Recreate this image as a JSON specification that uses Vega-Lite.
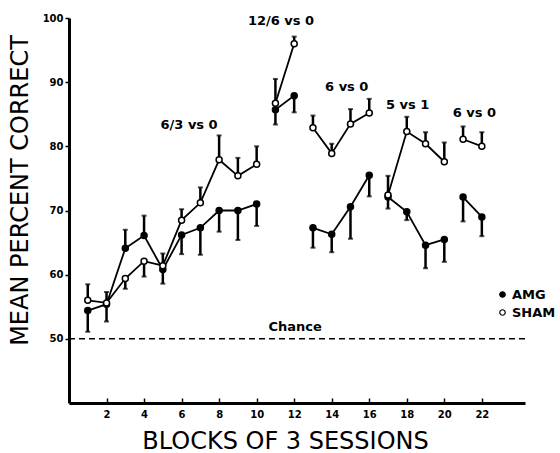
{
  "$schema": "https://vega.github.io/schema/vega-lite/v6.json",
  "autosize": "none",
  "width": 456,
  "height": 385,
  "padding": {"left": 69, "top": 18, "right": 35, "bottom": 50},
  "background": "white",
  "config": {
    "view": {"stroke": null},
    "font": "DejaVu Sans",
    "axis": {"grid": false, "domainColor": "black", "tickColor": "black", "labelColor": "black", "titleColor": "black", "domainWidth": 3, "tickWidth": 1.5, "labelFont": "DejaVu Sans", "labelFontWeight": "bold", "labelFontSize": 10, "titleFont": "DejaVu Sans", "titleFontWeight": "normal", "titleFontSize": 24}
  },
  "datasets": {
    "pts": [
      {"block": 1, "group": "AMG", "seg": "A", "value": 54.4, "err": 51.1},
      {"block": 2, "group": "AMG", "seg": "A", "value": 55.4, "err": 52.7},
      {"block": 3, "group": "AMG", "seg": "A", "value": 64.1, "err": 67.0},
      {"block": 4, "group": "AMG", "seg": "A", "value": 66.1, "err": 69.2},
      {"block": 5, "group": "AMG", "seg": "A", "value": 60.8, "err": 58.6},
      {"block": 6, "group": "AMG", "seg": "A", "value": 66.2, "err": 63.2},
      {"block": 7, "group": "AMG", "seg": "A", "value": 67.3, "err": 63.1},
      {"block": 8, "group": "AMG", "seg": "A", "value": 70.0, "err": 66.7},
      {"block": 9, "group": "AMG", "seg": "A", "value": 70.0, "err": 65.4},
      {"block": 10, "group": "AMG", "seg": "A", "value": 71.0, "err": 67.6},
      {"block": 11, "group": "AMG", "seg": "B", "value": 85.7, "err": 83.4},
      {"block": 12, "group": "AMG", "seg": "B", "value": 87.9, "err": 85.3},
      {"block": 13, "group": "AMG", "seg": "C", "value": 67.3, "err": 64.2},
      {"block": 14, "group": "AMG", "seg": "C", "value": 66.3, "err": 63.5},
      {"block": 15, "group": "AMG", "seg": "C", "value": 70.6, "err": 65.6},
      {"block": 16, "group": "AMG", "seg": "C", "value": 75.5, "err": 72.2},
      {"block": 17, "group": "AMG", "seg": "D", "value": 72.1, "err": 70.3},
      {"block": 18, "group": "AMG", "seg": "D", "value": 69.8, "err": 68.5},
      {"block": 19, "group": "AMG", "seg": "D", "value": 64.6, "err": 61.0},
      {"block": 20, "group": "AMG", "seg": "D", "value": 65.5, "err": 62.0},
      {"block": 21, "group": "AMG", "seg": "E", "value": 72.1, "err": 68.3},
      {"block": 22, "group": "AMG", "seg": "E", "value": 69.0, "err": 66.0},
      {"block": 1, "group": "SHAM", "seg": "A", "value": 56.0, "err": 58.5},
      {"block": 2, "group": "SHAM", "seg": "A", "value": 55.6, "err": 57.3},
      {"block": 3, "group": "SHAM", "seg": "A", "value": 59.4, "err": 57.8},
      {"block": 4, "group": "SHAM", "seg": "A", "value": 62.1, "err": 59.7},
      {"block": 5, "group": "SHAM", "seg": "A", "value": 61.4, "err": 63.3},
      {"block": 6, "group": "SHAM", "seg": "A", "value": 68.5, "err": 70.2},
      {"block": 7, "group": "SHAM", "seg": "A", "value": 71.2, "err": 73.6},
      {"block": 8, "group": "SHAM", "seg": "A", "value": 77.9, "err": 81.7},
      {"block": 9, "group": "SHAM", "seg": "A", "value": 75.4, "err": 78.2},
      {"block": 10, "group": "SHAM", "seg": "A", "value": 77.2, "err": 80.0},
      {"block": 11, "group": "SHAM", "seg": "B", "value": 86.7, "err": 90.5},
      {"block": 12, "group": "SHAM", "seg": "B", "value": 96.0, "err": 97.1},
      {"block": 13, "group": "SHAM", "seg": "C", "value": 82.9, "err": 84.8},
      {"block": 14, "group": "SHAM", "seg": "C", "value": 78.9, "err": 80.4},
      {"block": 15, "group": "SHAM", "seg": "C", "value": 83.5, "err": 85.8},
      {"block": 16, "group": "SHAM", "seg": "C", "value": 85.2, "err": 87.4},
      {"block": 17, "group": "SHAM", "seg": "D", "value": 72.4, "err": 75.4},
      {"block": 18, "group": "SHAM", "seg": "D", "value": 82.3, "err": 84.6},
      {"block": 19, "group": "SHAM", "seg": "D", "value": 80.4, "err": 82.2},
      {"block": 20, "group": "SHAM", "seg": "D", "value": 77.6, "err": 80.6},
      {"block": 21, "group": "SHAM", "seg": "E", "value": 81.1, "err": 83.1},
      {"block": 22, "group": "SHAM", "seg": "E", "value": 80.0, "err": 82.2}
    ],
    "notes": [
      {"label": "6/3 vs 0", "bx": 6.4, "by": 83.3},
      {"label": "12/6 vs 0", "bx": 11.3, "by": 99.5},
      {"label": "6 vs 0", "bx": 14.8, "by": 89.2},
      {"label": "5 vs 1", "bx": 18.05, "by": 86.4},
      {"label": "6 vs 0", "bx": 21.6, "by": 85.2},
      {"label": "Chance", "bx": 12.05, "by": 51.9}
    ],
    "chance": [{"level": 50}]
  },
  "layer": [
    {
      "data": {"name": "chance"},
      "mark": {"type": "rule", "color": "black", "strokeWidth": 1.5, "strokeDash": [6, 4]},
      "encoding": {"y": {"field": "level", "type": "quantitative"}}
    },
    {
      "data": {"name": "pts"},
      "mark": {"type": "rule", "color": "black", "strokeWidth": 2.5},
      "encoding": {
        "x": {"field": "block", "type": "quantitative"},
        "y": {"field": "value", "type": "quantitative"},
        "y2": {"field": "err"},
        "detail": {"field": "group"}
      }
    },
    {
      "data": {"name": "pts"},
      "mark": {"type": "tick", "orient": "horizontal", "color": "black", "size": 5, "thickness": 2},
      "encoding": {
        "x": {"field": "block", "type": "quantitative"},
        "y": {"field": "err", "type": "quantitative"},
        "detail": {"field": "group"}
      }
    },
    {
      "data": {"name": "pts"},
      "mark": {"type": "line", "color": "black", "strokeWidth": 1.8},
      "encoding": {
        "x": {"field": "block", "type": "quantitative"},
        "y": {"field": "value", "type": "quantitative"},
        "detail": [{"field": "group"}, {"field": "seg"}]
      }
    },
    {
      "data": {"name": "pts"},
      "mark": {"type": "point", "shape": "circle", "filled": true, "stroke": "black", "strokeWidth": 1.5, "size": 36, "opacity": 1},
      "encoding": {
        "x": {
          "field": "block", "type": "quantitative",
          "scale": {"domain": [0, 24.3], "nice": false, "zero": false},
          "axis": {"title": "BLOCKS OF 3 SESSIONS", "values": [2, 4, 6, 8, 10, 12, 14, 16, 18, 20, 22], "tickSize": -5, "labelPadding": 11, "titleX": 216, "titleY": 38, "titleBaseline": "middle", "titleAnchor": null}
        },
        "y": {
          "field": "value", "type": "quantitative",
          "scale": {"domain": [40, 100], "nice": false, "zero": false},
          "axis": {"title": "MEAN PERCENT CORRECT", "values": [50, 60, 70, 80, 90, 100], "tickSize": 4, "labelPadding": 2, "titleX": -49, "titleY": 172, "titleBaseline": "middle", "titleAngle": -90}
        },
        "fill": {
          "field": "group", "type": "nominal",
          "scale": {"domain": ["AMG", "SHAM"], "range": ["black", "white"]},
          "legend": {"title": null, "orient": "none", "legendX": 427, "legendY": 270, "labelFontSize": 13, "labelFontWeight": "bold", "labelColor": "black", "labelFont": "DejaVu Sans", "symbolType": "circle", "symbolSize": 30, "symbolStrokeColor": "black", "symbolStrokeWidth": 1.2, "rowPadding": 4, "labelOffset": 3}
        }
      }
    },
    {
      "data": {"name": "notes"},
      "mark": {"type": "text", "color": "black", "fontSize": 13, "fontWeight": "bold", "font": "DejaVu Sans", "align": "center", "baseline": "middle"},
      "encoding": {
        "x": {"field": "bx", "type": "quantitative"},
        "y": {"field": "by", "type": "quantitative"},
        "text": {"field": "label"}
      }
    }
  ]
}
